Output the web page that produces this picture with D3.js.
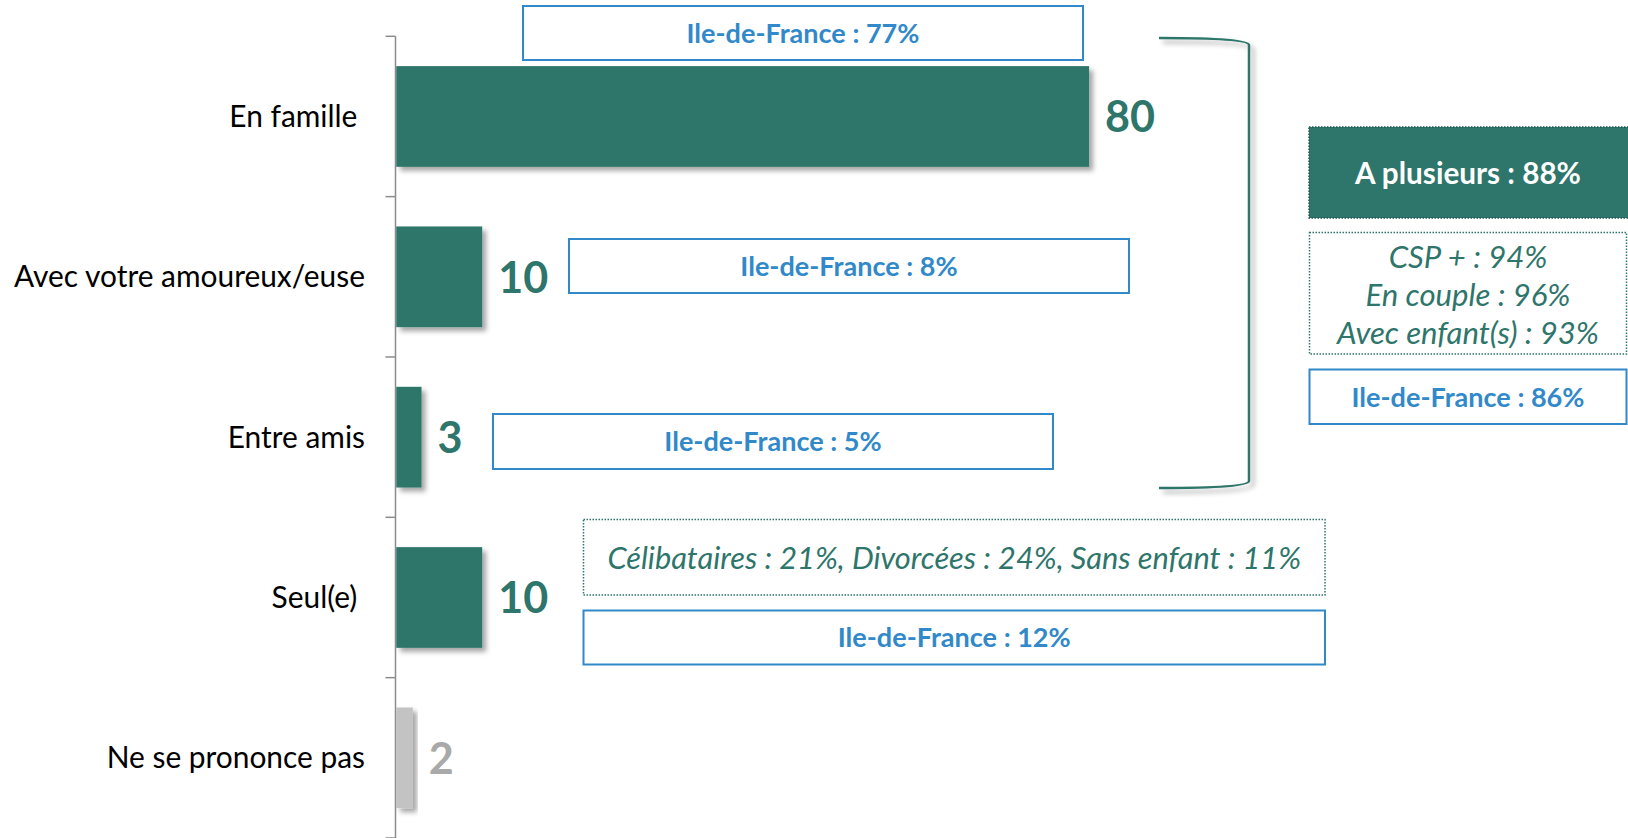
<!DOCTYPE html>
<html><head><meta charset="utf-8">
<script src="https://cdn.jsdelivr.net/npm/d3@7"></script>
<style>
html,body{margin:0;padding:0;background:#fff;overflow:hidden;}
svg{display:block;font-family:Lato,"Open Sans",sans-serif;}
</style></head><body>
<svg id="chart" width="1628" height="838"></svg>
<script>
// ---------- data ----------
const categories = ["En famille ", "Avec votre amoureux/euse", "Entre amis", "Seul(e) ", "Ne se prononce pas"];
const values = [80, 10, 3, 10, 2];
const idfLabels = ["Ile-de-France : 77%", "Ile-de-France : 8%", "Ile-de-France : 5%", "Ile-de-France : 12%"];
const seulDetail = ["Célibataires : 21%, Divorcées : 24%, Sans enfant : 11%"];
const plusieursTitle = ["A plusieurs : 88%"];
const plusieursDetail = ["CSP + : 94%", "En couple : 96%", "Avec enfant(s) : 93%"];
const plusieursIdf = ["Ile-de-France : 86%"];

// ---------- styles ----------
const GREEN = "#2e756b", GREY_BAR = "#c3c3c3", GREY_TXT = "#a9a9a9", BLUE = "#3189c9";

const svg = d3.select("#chart");
const defs = svg.append("defs");
const f = defs.append("filter").attr("id","shadow").attr("x","-20%").attr("y","-20%").attr("width","150%").attr("height","150%");
f.append("feDropShadow").attr("dx",4).attr("dy",4).attr("stdDeviation",2.5).attr("flood-color","#000").attr("flood-opacity",0.35);

// measure helper: font size so that text has a given width
function fitSize(txt, target, weight, style) {
  const t = svg.append("text").attr("font-size",100).attr("font-weight",weight||"normal")
    .attr("font-style",style||"normal").style("white-space","pre").text(txt);
  const w = t.node().getComputedTextLength();
  t.remove();
  return 100 * target / w;
}

const x = d3.scaleLinear().domain([0,100]).range([395.5, 1262.5]);
const y = d3.scaleBand().domain(categories).range([36.3, 838]).paddingInner(0.372).paddingOuter(0.186);
const step = y.step(), gap = step - y.bandwidth();

// axis
const ax = svg.append("g").attr("stroke","#8c8c8c").attr("stroke-width",1.5);
ax.append("line").attr("x1",x(0)).attr("x2",x(0)).attr("y1",y.range()[0]).attr("y2",y.range()[1]);
const bounds = categories.map(c => y(c) - gap/2).concat([y.range()[1]]);
ax.selectAll("line.t").data(bounds).join("line").attr("class","t")
  .attr("x1",x(0)-10).attr("x2",x(0)).attr("y1",d=>d).attr("y2",d=>d);

// bars
svg.append("g").selectAll("rect").data(categories).join("rect")
  .attr("x",x(0)+0.75).attr("y",c=>y(c)).attr("height",y.bandwidth())
  .attr("width",(c,i)=>x(values[i])-x(0)-0.75)
  .attr("fill",(c,i)=> i===categories.length-1 ? GREY_BAR : GREEN)
  .attr("filter","url(#shadow)");

// category labels
const catSize = fitSize("Avec votre amoureux/euse", 351);
svg.append("g").selectAll("text").data(categories).join("text")
  .attr("x",365).attr("y",c=>y(c)+y.bandwidth()/2 + catSize*0.35)
  .attr("text-anchor","end").attr("font-size",catSize).attr("fill","#000")
  .style("white-space","pre").text(c=>c);

// value labels
const valSize = fitSize("80", 50, "bold");
svg.append("g").selectAll("text").data(values).join("text")
  .attr("x",v=>x(v)+16).attr("y",(v,i)=>y(categories[i])+y.bandwidth()/2 + valSize*0.37)
  .attr("font-size",valSize).attr("font-weight","bold")
  .attr("fill",(v,i)=> i===categories.length-1 ? GREY_TXT : GREEN).text(v=>v);

// annotation boxes
const idfSize = fitSize("Ile-de-France : 77%", 233, "bold");
const idfBoxes = [
  {x:523, y:6, w:560, h:54},
  {x:569, y:239, w:560, h:54},
  {x:493, y:414, w:560, h:55},
  {x:583.5, y:610.5, w:741.5, h:54}
];
const ann = svg.append("g");
idfBoxes.forEach((b,i)=>{
  ann.append("rect").attr("x",b.x).attr("y",b.y).attr("width",b.w).attr("height",b.h)
    .attr("fill","#fff").attr("stroke",BLUE).attr("stroke-width",2);
  ann.append("text").attr("x",b.x+b.w/2).attr("y",b.y+b.h/2+idfSize*0.36)
    .attr("text-anchor","middle").attr("font-size",idfSize).attr("font-weight","bold")
    .attr("fill",BLUE).text(idfLabels[i]);
});

// seul detail (dotted)
const sdSize = fitSize(seulDetail[0], 668*1.0383, "normal", "italic");
ann.append("rect").attr("x",583.5).attr("y",519.5).attr("width",741.5).attr("height",75.5)
  .attr("fill","none").attr("stroke",GREEN).attr("stroke-width",1.5).attr("stroke-dasharray","1.5,1.5");
ann.append("text").attr("x",583.5+741.5/2).attr("y",558.5+sdSize*0.35).attr("text-anchor","middle")
  .attr("font-size",sdSize).attr("font-style","italic").attr("fill",GREEN).text(seulDetail[0]);

// bracket
const br = d3.path();
br.moveTo(1159,38);
br.bezierCurveTo(1215,38,1249,40,1249,45);
br.lineTo(1249,481);
br.bezierCurveTo(1249,486,1215,488,1159,488);
svg.append("path").attr("d",br.toString()).attr("fill","none").attr("stroke",GREEN)
  .attr("stroke-width",2.5).attr("filter","url(#shadow)");

// right side
const right = svg.append("g");
const ptSize = fitSize(plusieursTitle[0], 226, "bold");
right.append("rect").attr("x",1309).attr("y",127).attr("width",330).attr("height",91)
  .attr("fill",GREEN).attr("stroke","#1f5a52").attr("stroke-width",1.5).attr("stroke-dasharray","1.5,1.5");
right.append("text").attr("x",1468).attr("y",173+ptSize*0.36).attr("text-anchor","middle")
  .attr("font-size",ptSize).attr("font-weight","bold").attr("fill","#fff").text(plusieursTitle[0]);

const pdSize = fitSize("Avec enfant(s) : 93%", 262, "normal", "italic");
right.append("rect").attr("x",1309.5).attr("y",232.5).attr("width",317).attr("height",121.5)
  .attr("fill","none").attr("stroke",GREEN).attr("stroke-width",1.5).attr("stroke-dasharray","1.5,1.5");
right.selectAll("text.pd").data(plusieursDetail).join("text").attr("class","pd")
  .attr("x",1468).attr("y",(d,i)=>257+i*38+pdSize*0.35).attr("text-anchor","middle")
  .attr("font-size",pdSize).attr("font-style","italic").attr("fill",GREEN).text(d=>d);

right.append("rect").attr("x",1309.5).attr("y",369.5).attr("width",317).attr("height",54.5)
  .attr("fill","#fff").attr("stroke",BLUE).attr("stroke-width",2);
right.append("text").attr("x",1468).attr("y",397+idfSize*0.36).attr("text-anchor","middle")
  .attr("font-size",idfSize).attr("font-weight","bold").attr("fill",BLUE).text(plusieursIdf[0]);
</script>
</body></html>
